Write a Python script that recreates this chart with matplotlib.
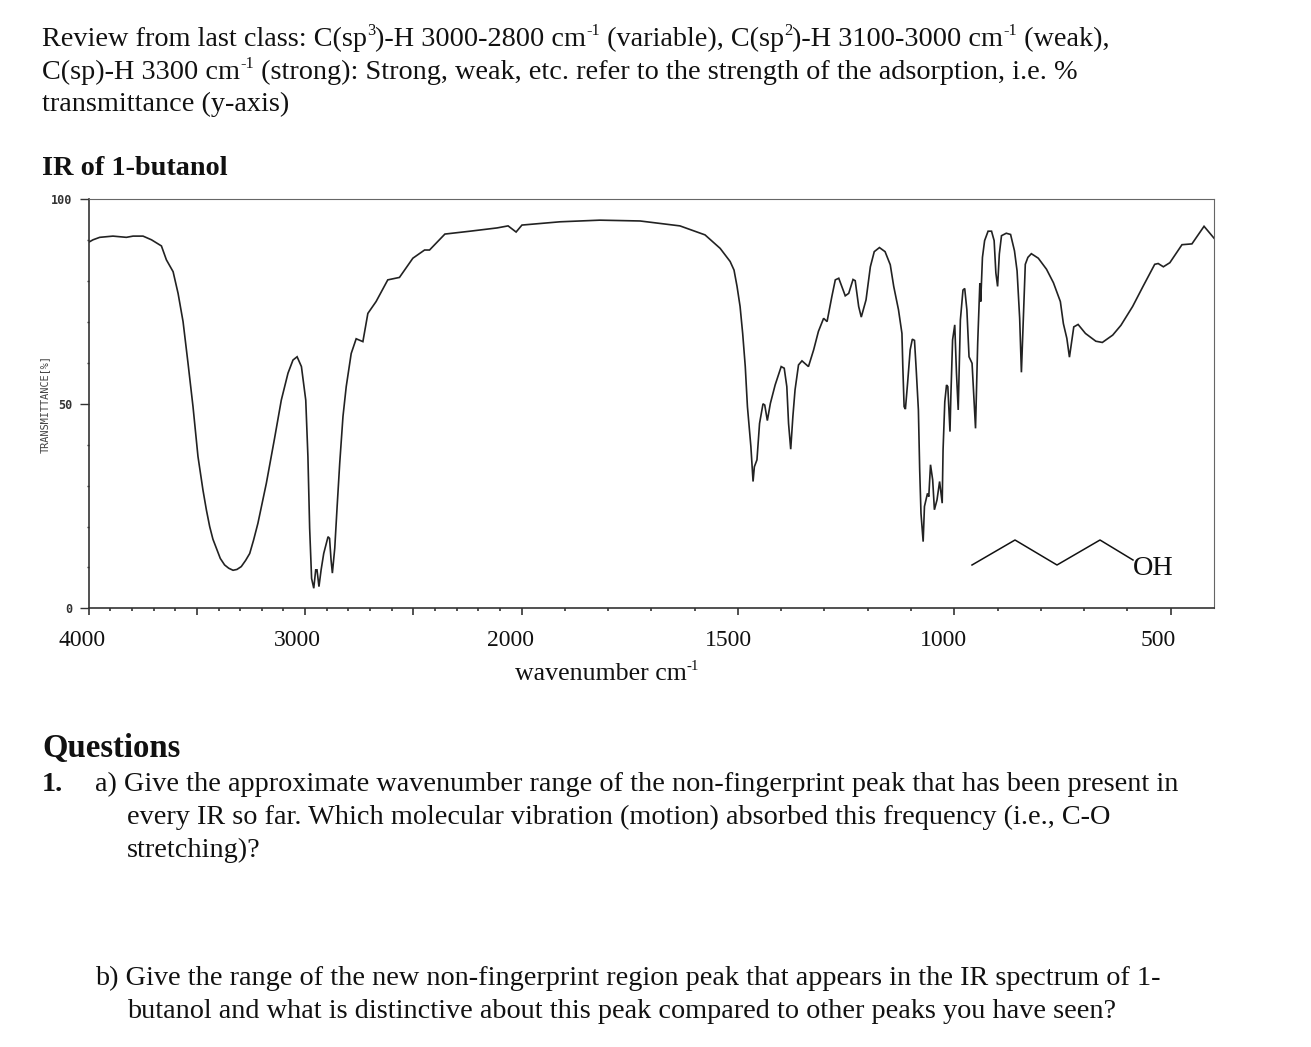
import re

import matplotlib
matplotlib.use('Agg')
import matplotlib.pyplot as plt
import numpy as np
from matplotlib.lines import Line2D
from matplotlib.transforms import ScaledTranslation

W, H = 1311, 1047

# spectrum
wavenumber = [
    4000, 3980, 3949, 3888, 3826, 3795, 3749, 3710, 3664, 3641, 3610, 3587, 3564, 3541, 3518, 3495,
    3472, 3456, 3441, 3426, 3410, 3392, 3372, 3353, 3333, 3315, 3295, 3275, 3256, 3238, 3218,
    3179, 3141, 3110, 3079, 3056, 3037, 3017, 2997,
    2987, 2979, 2970, 2960, 2951, 2945, 2936, 2926, 2914, 2894, 2887, 2880, 2874, 2863, 2852, 2840,
    2825, 2810, 2787, 2764, 2733, 2710, 2672, 2618, 2564, 2502, 2448, 2425, 2354, 2238, 2113, 2062,
    2025, 1999, 1911, 1819, 1726, 1634, 1576, 1541, 1518, 1509, 1502, 1495, 1489, 1483, 1478, 1470,
    1465, 1462, 1456, 1450, 1442, 1438, 1432, 1425, 1414, 1400, 1393, 1387, 1383, 1378, 1373, 1368,
    1360, 1352, 1337, 1325, 1314, 1302, 1294, 1283, 1275, 1267, 1252, 1244, 1234, 1229, 1221, 1215,
    1204, 1194, 1185, 1173, 1160, 1148, 1140, 1129, 1121, 1119, 1116, 1113, 1108, 1102, 1097, 1092,
    1088, 1083, 1080, 1077, 1072, 1069, 1062, 1059, 1055, 1050, 1046, 1040, 1034, 1028, 1026, 1022,
    1018, 1015, 1010, 1008, 1004, 999, 995, 991, 986, 980, 976, 971, 966, 959, 951, 946,
    941, 939, 935, 930, 922, 914, 908, 904, 900, 896, 891, 880, 870, 861, 855, 849,
    845, 841, 836, 830, 822, 806, 787, 771, 755, 748, 740, 734, 730, 724, 714, 697,
    673, 658, 634, 615, 588, 564, 537, 529, 517, 502, 474, 451, 423, 408, 400,
]
transmittance = [
    89.5, 90.1, 90.7, 91.0, 90.7, 91.0, 91.0, 90.1, 88.6, 85.2, 82.3, 77.0, 70.1, 59.9, 49.3, 37.1,
    28.9, 24.0, 20.0, 16.9, 14.7, 12.2, 10.6, 9.8, 9.3, 9.5, 10.2, 11.7, 13.4, 16.7, 20.8,
    30.6, 41.6, 50.9, 57.5, 60.7, 61.5, 59.1, 50.9,
    37.1, 19.6, 7.3, 4.9, 9.4, 9.4, 5.3, 9.4, 13.4, 17.5, 17.1, 11.8, 8.6, 14.7, 24.9, 35.5,
    46.9, 54.2, 62.3, 65.9, 65.2, 72.1, 75.0, 80.3, 80.9, 85.6, 87.6, 87.6, 91.5, 92.2, 93.0, 93.5,
    92.0, 93.7, 94.5, 94.9, 94.7, 93.5, 91.3, 88.0, 84.8, 82.7, 78.7, 73.8, 67.2, 59.1, 49.3, 39.5,
    31.0, 34.6, 36.3, 45.2, 50.0, 49.7, 45.9, 50.1, 54.6, 59.1, 58.7, 54.2, 45.2, 38.9, 46.9, 53.4,
    59.5, 60.5, 59.1, 63.2, 67.7, 70.9, 70.1, 76.2, 80.3, 80.7, 76.4, 77.0, 80.4, 80.1, 73.8, 71.2,
    75.4, 83.5, 87.2, 88.2, 87.2, 84.0, 78.7, 73.0, 67.2, 59.1, 49.3, 48.7, 55.0, 63.2, 65.8, 65.5,
    58.3, 48.5, 33.8, 23.2, 16.3, 24.9, 28.1, 27.3, 35.1, 31.4, 24.1, 26.5, 31.0, 25.7, 38.7, 50.5,
    54.6, 54.2, 43.2, 51.8, 65.6, 69.3, 57.5, 48.5, 70.5, 77.8, 78.2, 73.0, 61.5, 59.9, 44.0, 64.8,
    79.5, 75.0, 85.8, 89.9, 92.2, 92.2, 89.9, 82.0, 78.7, 86.6, 91.1, 91.7, 91.4, 87.4, 82.5, 70.9,
    57.7, 69.2, 84.1, 85.8, 86.7, 85.6, 82.9, 79.6, 75.0, 69.6, 66.0, 61.4, 64.3, 68.8, 69.4, 67.2,
    65.3, 65.0, 66.8, 69.2, 73.8, 78.7, 84.1, 84.3, 83.5, 84.5, 88.9, 89.1, 93.4, 91.5, 90.5,
]

# the wavenumber axis changes scale at 2000
scale_wn = [400, 500, 1000, 1500, 2000, 3000, 4000]
scale_pos = [0, 0.2, 1.2, 2.2, 3.2, 4.2, 5.2]

major_wn = [4000, 3500, 3000, 2500, 2000, 1500, 1000, 500]
major_labels = ['4000', '', '3000', '', '2000', '1500', '1000', '500']
label_shift = [-7, 0, -8, 0, -11, -9, -11, -13]
minor_wn = [w for w in range(3900, 500, -100) if w not in major_wn]

# ^{..} marks a raised run
intro_lines = [
    'Review from last class: C(sp^{3})-H 3000-2800 cm^{-1} (variable), C(sp^{2})-H 3100-3000 cm^{-1} (weak),',
    'C(sp)-H 3300 cm^{-1} (strong): Strong, weak, etc. refer to the strength of the adsorption, i.e. %',
    'transmittance (y-axis)',
]

plt.rcParams['font.family'] = ['Liberation Serif', 'DejaVu Serif']
BODY = 20.33


def forward(w):
    return np.interp(w, scale_wn, scale_pos)


def inverse(p):
    return np.interp(p, scale_pos, scale_wn)


def put(x, y, s, size=BODY, **kw):
    return fig.text(x / W, 1 - y / H, s, fontsize=size, va='baseline', color='#111111', **kw)


def advance(s, size):
    # width with the spaces counted, bars keep them from being dropped
    renderer = fig.canvas.get_renderer()
    probe = fig.text(0, 0, '|' + s + '|', fontsize=size)
    bar = fig.text(0, 0, '||', fontsize=size)
    width = probe.get_window_extent(renderer).width - bar.get_window_extent(renderer).width
    probe.remove()
    bar.remove()
    return width


def put_runs(x, y, s, size=BODY):
    for i, part in enumerate(re.split(r'\^\{(.*?)\}', s)):
        if i % 2:
            put(x, y - size * 0.55, part, size=size * 0.58)
            x += advance(part, size * 0.58)
        else:
            put(x, y, part, size=size)
            x += advance(part, size)


fig = plt.figure(figsize=(W / 100, H / 100), dpi=100, facecolor='white')
ax = fig.add_axes([88.7 / W, 1 - 608.3 / H, 1125.3 / W, 409 / H])

ax.plot(wavenumber, transmittance, color='#222222', lw=1.2, solid_joinstyle='miter')
ax.set_xscale('function', functions=(forward, inverse))
ax.set_xlim(4000, 400)
ax.set_ylim(0, 100)

ax.set_xticks(major_wn, major_labels, fontsize=17, color='#111111')
ax.set_xticks(minor_wn, minor=True)
ax.set_yticks([0, 50, 100], ['0', '50', '100'], fontsize=8.5, fontweight='bold',
              family='DejaVu Sans Mono', color='#333333')
ax.set_yticks(np.arange(10, 100, 10), minor=True)

ax.tick_params(axis='x', which='major', length=5, width=1.2, color='#333333', pad=10.5)
ax.tick_params(axis='x', which='minor', length=2, width=1.2, color='#333333')
ax.tick_params(axis='y', which='major', length=6.5, width=1, color='#333333', pad=5.5)
ax.tick_params(axis='y', which='minor', length=1.5, width=1, color='#333333')

for side, w, c in [('left', 1.2, '#333333'), ('bottom', 1.2, '#333333'),
                   ('top', 0.8, '#666666'), ('right', 0.8, '#666666')]:
    ax.spines[side].set_linewidth(w)
    ax.spines[side].set_color(c)

for tick_label, dx in zip(ax.get_xticklabels(), label_shift):
    tick_label.set_transform(tick_label.get_transform() + ScaledTranslation(dx / 100, 0, fig.dpi_scale_trans))

fig.text(45 / W, 1 - 404 / H, 'TRANSMITTANCE[%]', rotation=90, ha='center', va='center',
         fontsize=7.4, family='DejaVu Sans Mono', color='#444444')

for line, base in zip(intro_lines, [46, 79, 111]):
    put_runs(42, base, line)
put(42, 175, 'IR of 1-butanol', fontweight='bold')
put_runs(515, 680, 'wavenumber cm^{-1}', size=18.6)

# butanol skeleton, figure pixels
mol_x = [972, 1015, 1057, 1100, 1133]
mol_y = [565, 540, 565, 540, 560]
fig.add_artist(Line2D([x / W for x in mol_x], [1 - y / H for y in mol_y], color='#111111', lw=1.1))
put(1133, 575, 'OH')

put(42, 757, 'Questions', size=23.6, fontweight='bold')
put(42, 791, '1.', fontweight='bold')
put(95, 791, 'a) Give the approximate wavenumber range of the non-fingerprint peak that has been present in')
put(127, 824, 'every IR so far. Which molecular vibration (motion) absorbed this frequency (i.e., C-O')
put(127, 857, 'stretching)?')
put(95, 985, 'b) Give the range of the new non-fingerprint region peak that appears in the IR spectrum of 1-')
put(127, 1018, 'butanol and what is distinctive about this peak compared to other peaks you have seen?')

fig.savefig('out.png', dpi=100)
